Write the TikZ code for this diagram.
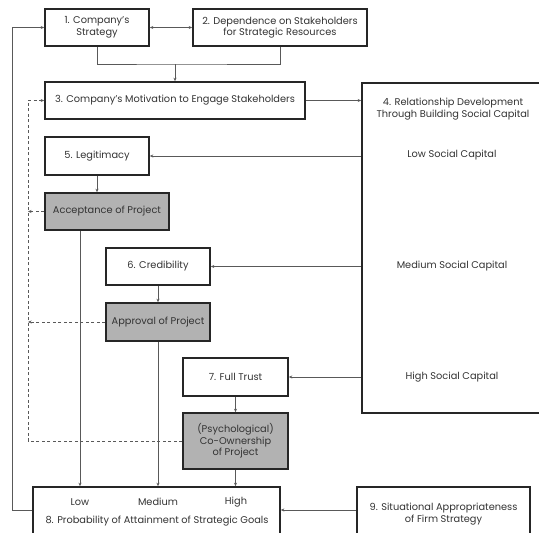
\documentclass[tikz,border=0pt]{standalone}
\usepackage{fontspec}
\setmainfont{Poppins}
\usetikzlibrary{arrows.meta}
\tikzset{
  box/.style={draw=black!85, line width=1.6pt, fill=white, inner sep=0pt, align=center, font=\fontsize{9.8}{11.5}\selectfont, text=black!80},
  gbox/.style={box, fill=black!30},
  txt/.style={inner sep=0pt, align=center, font=\fontsize{9.8}{11.5}\selectfont, text=black!80},
  conn/.style={draw=black!65, line width=0.8pt, -{Stealth[length=3.5pt,width=3pt]}},
  line/.style={draw=black!65, line width=0.8pt},
  dconn/.style={draw=black!65, line width=0.8pt, dash pattern=on 3pt off 2.5pt, -{Stealth[length=3.5pt,width=3pt]}},
  dline/.style={draw=black!65, line width=0.8pt, dash pattern=on 3pt off 2.5pt}
}
\begin{document}
\begin{tikzpicture}[x=1pt,y=-1pt]
\useasboundingbox (0,0) rectangle (539,533);
% boxes
\node[box, minimum width=104pt, minimum height=37pt] (b1) at (97,27.5) {1. Company's\\Strategy};
\node[box, minimum width=174pt, minimum height=37pt] (b2) at (280,27.5) {2. Dependence on Stakeholders\\for Strategic Resources};
\node[box, minimum width=260pt, minimum height=37pt] (b3) at (175,100.5) {3. Company's Motivation to Engage Stakeholders};
\node[box, minimum width=186pt, minimum height=330pt] (b4) at (455,248) {};
\node[txt] (b4t) at (453,109) {4. Relationship Development\\Through Building Social Capital};
\node[txt] (low) at (452,155) {Low Social Capital};
\node[txt] (med) at (452,266) {Medium Social Capital};
\node[txt] (high) at (452,377) {High Social Capital};
\node[box, minimum width=104pt, minimum height=38pt] (b5) at (97,156) {5. Legitimacy};
\node[gbox, minimum width=124pt, minimum height=37pt] (acc) at (107,211.5) {Acceptance of Project};
\node[box, minimum width=104pt, minimum height=37pt] (b6) at (158,266.5) {6. Credibility};
\node[gbox, minimum width=104pt, minimum height=38pt] (appr) at (158,322) {Approval of Project};
\node[box, minimum width=105pt, minimum height=38pt] (b7) at (235.5,377) {7. Full Trust};
\node[gbox, minimum width=105pt, minimum height=56pt] (co) at (235.5,441) {(Psychological)\\Co-Ownership\\of Project};
\node[box, minimum width=247pt, minimum height=48pt] (b8) at (156.5,511) {};
\node[txt] (l8) at (80,502) {Low};
\node[txt] (m8) at (158,502) {Medium};
\node[txt] (h8) at (236,502) {High};
\node[txt] (t8) at (157,521) {8. Probability of Attainment of Strategic Goals};
\node[box, minimum width=173pt, minimum height=48pt] (b9) at (443.5,511) {};
\node[txt] (t9) at (443.5,514) {9. Situational Appropriateness\\of Firm Strategy};
% coordinates
\coordinate (d) at (28,100.5);
\coordinate (j) at (175,64);
\coordinate (fb) at (12,510);
% connectors
\draw[line, {Stealth[length=3.5pt,width=3pt]}-{Stealth[length=3.5pt,width=3pt]}] (b1.east) -- (b2.west);
\draw[line] (b1.south) |- (j) -| (b2.south);
\draw[conn] (j) -- (b3.north);
\draw[conn] (b3.east) -- (b3.east -| b4.west);
\draw[conn] (b4.west |- b5.east) -- (b5.east);
\draw[conn] (b4.west |- b6.east) -- (b6.east);
\draw[conn] (b4.west |- b7.east) -- (b7.east);
\draw[conn] (b5.south) -- (b5.south |- acc.north);
\draw[conn] (b6.south) -- (appr.north);
\draw[conn] (b7.south) -- (co.north);
\draw[conn] (acc.south -| l8) -- (l8 |- b8.north);
\draw[conn] (appr.south) -- (appr.south |- b8.north);
\draw[conn] (co.south) -- (co.south |- b8.north);
\draw[conn] (b9.west |- fb) -- (b8.east |- fb);
\draw[conn] (b8.west |- fb) -- (fb) |- (b1.west);
% dashed feedback
\draw[dline] (co.west) -| (d);
\draw[dconn] (d) -- (b3.west);
\draw[dconn] (acc.west) -- (acc.west -| d);
\draw[dconn] (appr.west) -- (appr.west -| d);
\end{tikzpicture}
\end{document}
